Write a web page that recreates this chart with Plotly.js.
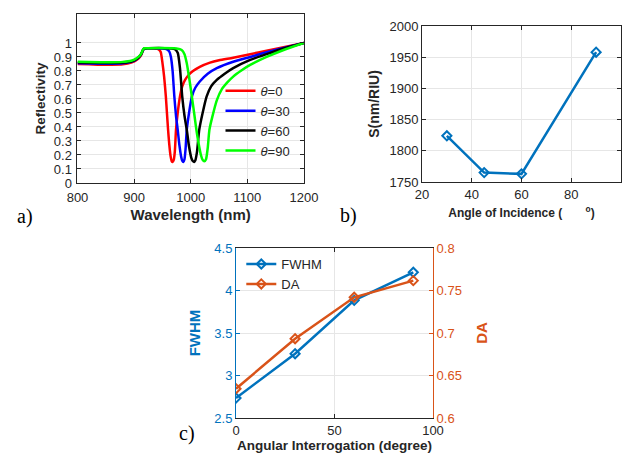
<!DOCTYPE html>
<html><head><meta charset="utf-8">
<script src="https://cdn.plot.ly/plotly-3.0.1.min.js"></script>
<style>body{margin:0;background:#fff}#chart{width:630px;height:457px}</style>
</head><body><div id="chart"></div>
<script>
// ---- Panel a: reflectivity vs wavelength ----
const wlRed = [800,820,840,860,880,895,905,912,916,918,925,935,940,944,947,950,953,956,958,960,962,964.5,966.5,968,970,972,974,977,981,985,990,997,1004,1016,1034,1050,1075,1105,1134,1164,1200];
const rRed  = [0.85,0.848,0.845,0.845,0.848,0.86,0.88,0.91,0.95,0.96,0.962,0.961,0.958,0.952,0.935,0.86,0.76,0.62,0.5,0.38,0.28,0.19,0.155,0.15,0.165,0.23,0.38,0.5,0.617,0.69,0.736,0.775,0.8,0.83,0.86,0.877,0.895,0.92,0.945,0.97,1.0];
const wlBlue = [800,840,860,880,895,905,912,916,918,925,950,958,962,965,968,971,974,977,980,983,985,987,989,991,993,997,1002,1008,1016,1030,1046,1075,1105,1134,1164,1200];
const rBlue  = [0.855,0.852,0.852,0.855,0.865,0.885,0.915,0.95,0.96,0.962,0.96,0.955,0.94,0.9,0.8,0.62,0.48,0.38,0.27,0.19,0.16,0.15,0.17,0.25,0.38,0.5,0.617,0.68,0.725,0.78,0.82,0.866,0.9,0.934,0.965,1.0];
const wlBlack = [800,840,860,880,895,905,912,916,918,925,965,972,977,981,985,989,993,997,1001,1004,1006,1008,1011,1015,1021,1028,1036,1046,1060,1075,1105,1134,1164,1200];
const rBlack  = [0.86,0.857,0.857,0.86,0.868,0.888,0.918,0.952,0.96,0.962,0.96,0.955,0.93,0.82,0.617,0.48,0.38,0.26,0.18,0.155,0.15,0.16,0.22,0.38,0.5,0.617,0.69,0.736,0.78,0.82,0.879,0.92,0.96,1.0];
const wlGreen = [800,840,860,880,895,905,912,916,918,925,975,984,989,993,998,1002,1006,1010,1014,1018,1021,1024,1027,1030,1033,1038,1046,1055,1065,1075,1090,1105,1134,1164,1200];
const rGreen  = [0.865,0.862,0.862,0.865,0.873,0.892,0.92,0.955,0.962,0.963,0.96,0.95,0.92,0.855,0.73,0.617,0.5,0.38,0.28,0.2,0.165,0.155,0.17,0.25,0.38,0.47,0.59,0.67,0.72,0.76,0.805,0.843,0.9,0.95,1.0];
const curveNames = ['<i>θ</i>=0','<i>θ</i>=30','<i>θ</i>=60','<i>θ</i>=90'];
const curveColors = ['#ff0000','#0000ff','#000000','#00ff00'];
const reflTicks = [0,0.1,0.2,0.3,0.4,0.5,0.6,0.7,0.8,0.9,1];
const wlTicks = [800,900,1000,1100,1200];

// ---- Panel b: sensitivity vs angle ----
const angleB = [30,45,60,90];
const sensB = [1824,1765,1763,1958];

// ---- Panel c: FWHM and DA vs angle ----
const angleC = [0,30,60,90];
const fwhmC = [2.735,3.257,3.884,4.214];
const daC = [0.6345,0.6933,0.742,0.7616];

const FONT = 'Liberation Sans, Arial, sans-serif';
const TXT = '#262626';
const GRID = '#e6e6e6';
const BLUE = '#0072BD';
const ORANGE = '#D95319';

const wls = [wlRed, wlBlue, wlBlack, wlGreen];
const rs = [rRed, rBlue, rBlack, rGreen];
const traces = [];
for (let i = 0; i < 4; i++) {
  traces.push({x: wls[i], y: rs[i], type: 'scatter', mode: 'lines', name: curveNames[i],
    line: {color: curveColors[i], width: 2.5, shape: 'spline', smoothing: 0.6},
    xaxis: 'x', yaxis: 'y', legend: 'legend'});
}
traces.push({x: angleB, y: sensB, type: 'scatter', mode: 'lines+markers', showlegend: false,
  line: {color: BLUE, width: 2.5}, marker: {symbol: 'diamond-open', size: 7, color: BLUE, line: {width: 2, color: BLUE}},
  xaxis: 'x2', yaxis: 'y2'});
traces.push({x: angleC, y: fwhmC, type: 'scatter', mode: 'lines+markers', name: 'FWHM',
  line: {color: BLUE, width: 2.5}, marker: {symbol: 'diamond-open', size: 7, color: BLUE, line: {width: 2, color: BLUE}},
  xaxis: 'x3', yaxis: 'y3', legend: 'legend2'});
traces.push({x: angleC, y: daC, type: 'scatter', mode: 'lines+markers', name: 'DA',
  line: {color: ORANGE, width: 2.5}, marker: {symbol: 'diamond-open', size: 7, color: ORANGE, line: {width: 2, color: ORANGE}},
  xaxis: 'x3', yaxis: 'y4', legend: 'legend2'});

function ax(extra) {
  return Object.assign({showline: true, linecolor: TXT, linewidth: 1, mirror: 'ticks', ticks: 'inside', ticklen: 4,
    tickcolor: TXT, showgrid: true, gridcolor: GRID, zeroline: false,
    tickfont: {family: FONT, size: 13, color: TXT}}, extra);
}
function ttl(text, size, color, standoff) {
  return {text: text, font: {family: FONT, size: size, color: color || TXT, weight: 'bold'}, standoff: standoff};
}

const layout = {
  width: 630, height: 457, margin: {l: 0, r: 0, t: 0, b: 0},
  paper_bgcolor: '#ffffff', plot_bgcolor: '#ffffff',
  font: {family: FONT, color: TXT},
  xaxis: ax({domain: [0.123, 0.4825], anchor: 'y', range: [800, 1200], tickvals: wlTicks, ticklabelstandoff: 2,
    title: ttl('Wavelength (nm)', 15, TXT, 5)}),
  yaxis: ax({domain: [0.5996, 0.9694], anchor: 'x', range: [0, 1.207], tickvals: reflTicks, ticklabelstandoff: 2,
    title: ttl('Reflectivity', 13.5, TXT, 5)}),
  xaxis2: ax({domain: [0.6698, 0.9857], anchor: 'y2', range: [20, 100], dtick: 20,
    title: ttl('Angle of Incidence (\u00A0\u00A0\u00A0\u00A0\u00A0\u00A0\u00A0<sup>o</sup>)', 12, TXT, 8)}),
  yaxis2: ax({domain: [0.6018, 0.9431], anchor: 'x2', range: [1750, 2000], dtick: 50,
    title: ttl('S(nm/RIU)', 14, TXT, 6)}),
  xaxis3: ax({domain: [0.3746, 0.6873], anchor: 'y3', range: [0, 100], dtick: 50,
    title: ttl('Angular Interrogation (degree)', 13.5, TXT, 2)}),
  yaxis3: ax({domain: [0.0853, 0.4573], anchor: 'x3', range: [2.5, 4.5], dtick: 0.5, mirror: false,
    linecolor: BLUE, tickcolor: BLUE, tickfont: {family: FONT, size: 13, color: BLUE},
    title: ttl('FWHM', 15, BLUE, 10)}),
  yaxis4: ax({overlaying: 'y3', side: 'right', anchor: 'x3', range: [0.6, 0.8], dtick: 0.05, mirror: false, showgrid: false,
    linecolor: ORANGE, tickcolor: ORANGE, tickfont: {family: FONT, size: 13, color: ORANGE},
    title: ttl('DA', 15, ORANGE, 15)}),
  legend: {x: 0.35, y: 0.834, xanchor: 'left', yanchor: 'top', bgcolor: 'rgba(255,255,255,0)',
    font: {family: FONT, size: 13, color: TXT}, itemwidth: 30},
  legend2: {x: 0.383, y: 0.455, xanchor: 'left', yanchor: 'top', bgcolor: 'rgba(255,255,255,0)',
    font: {family: FONT, size: 13, color: TXT}, itemwidth: 30},
  annotations: [
    {text: 'a)', xref: 'paper', yref: 'paper', x: 15/630, y: 1 - 217/457, showarrow: false, font: {family: 'Liberation Serif, serif', size: 20, color: '#000'}},
    {text: 'b)', xref: 'paper', yref: 'paper', x: 348/630, y: 1 - 215/457, showarrow: false, font: {family: 'Liberation Serif, serif', size: 20, color: '#000'}},
    {text: 'c)', xref: 'paper', yref: 'paper', x: 177/630, y: 1 - 447/457, showarrow: false, font: {family: 'Liberation Serif, serif', size: 20, color: '#000'}}
  ]
};

Plotly.newPlot('chart', traces, layout, {displayModeBar: false, staticPlot: true});
</script>
</body></html>
